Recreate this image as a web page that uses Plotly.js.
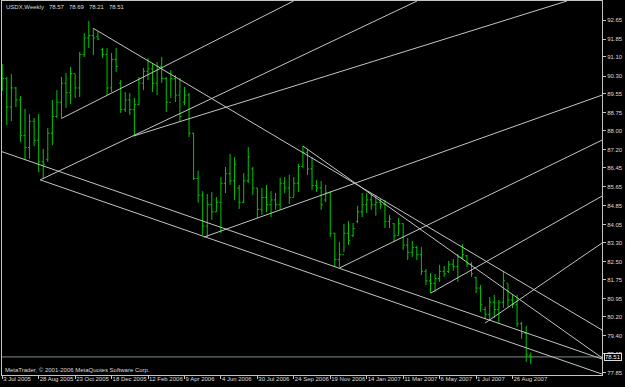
<!DOCTYPE html>
<html>
<head>
<meta charset="utf-8">
<script src="https://cdn.plot.ly/plotly-3.0.1.min.js"></script>
<style>html,body{margin:0;padding:0;background:#000;}#chart{width:625px;height:387px;}</style>
</head>
<body>
<div id="chart"></div>
<script>
// Weekly USDX bars, one per week starting 3 Jul 2005 (index 0)
const openP  = [89.95,90.20,89.00,89.80,89.30,87.80,87.30,88.40,87.60,86.70,86.80,87.90,88.60,89.20,90.00,89.60,90.40,89.80,91.20,91.90,
                92.00,91.95,91.40,91.20,89.80,91.00,90.00,88.90,89.30,88.90,89.10,90.00,90.50,90.60,90.00,90.70,90.20,89.20,90.20,89.50,
                89.20,89.50,87.90,86.00,85.30,84.00,84.90,84.60,85.00,85.80,86.20,85.90,85.60,85.00,85.90,86.40,85.60,84.70,85.20,84.90,
                85.10,84.90,85.80,85.60,85.20,85.80,86.50,87.10,86.40,85.70,85.60,85.10,85.40,83.70,82.60,82.80,83.70,83.60,84.20,84.60,
                84.90,85.10,84.90,85.00,84.90,84.20,84.10,83.60,84.10,83.20,82.90,83.10,82.80,82.10,81.70,81.60,81.80,82.10,82.10,82.40,
                82.30,82.70,82.75,82.40,81.85,81.40,80.50,80.30,80.80,80.50,80.80,81.60,80.90,80.70,79.90,79.50,78.57];
const highP  = [90.80,90.26,90.38,89.84,89.46,88.92,88.70,88.54,88.70,87.24,88.12,89.29,89.71,90.26,90.43,90.68,90.38,91.31,92.10,92.61,
                92.31,92.15,91.48,91.48,91.27,91.48,90.13,89.63,89.59,89.38,90.26,90.64,91.06,90.85,90.89,91.10,90.26,90.55,90.34,90.22,
                89.84,89.59,87.91,86.33,85.47,85.35,85.43,85.22,86.06,86.48,87.03,86.90,85.73,86.23,87.32,86.48,85.60,85.60,85.73,85.47,
                85.39,86.02,86.06,86.15,86.06,86.61,87.36,87.24,86.90,85.94,85.89,85.73,85.47,83.71,83.33,84.09,84.21,84.13,84.85,85.39,
                85.39,85.39,85.31,85.18,85.10,84.47,84.13,84.34,84.13,83.50,83.38,83.17,83.12,82.20,82.03,81.99,82.37,82.33,82.54,82.62,
                82.83,83.25,82.79,82.49,81.86,81.53,80.61,81.03,81.11,80.90,82.12,81.57,81.11,81.11,79.98,79.81,78.69];
const lowP   = [89.67,88.24,88.41,89.00,87.53,86.77,86.82,87.36,86.27,85.98,86.69,87.40,88.54,88.54,88.96,89.12,89.38,89.42,91.10,91.48,
                91.18,91.81,91.06,89.50,89.63,90.47,88.75,88.79,88.66,87.82,89.08,89.71,90.13,89.63,89.50,90.01,88.79,89.38,89.21,88.37,
                89.08,87.74,85.94,84.98,83.63,83.54,84.26,84.59,83.71,85.39,85.73,85.10,84.72,84.97,85.81,85.31,84.34,84.47,84.59,84.38,
                84.68,84.68,85.39,84.93,85.22,85.43,86.44,86.14,85.52,85.43,84.68,85.01,83.54,82.28,82.28,82.91,83.21,83.54,84.13,84.38,
                84.55,84.68,84.43,84.72,83.92,83.92,83.33,83.63,83.00,82.58,82.70,82.58,81.95,81.53,81.19,81.24,81.66,81.87,82.03,82.12,
                81.66,82.62,82.28,81.87,81.19,80.40,80.10,80.06,80.15,79.94,80.56,80.61,80.56,79.77,79.26,78.30,78.21];
const closeP = [90.20,89.00,89.80,89.30,87.80,87.30,88.40,87.60,86.70,86.60,87.90,88.60,89.20,90.00,89.60,90.40,89.80,91.20,91.90,92.00,
                91.90,91.85,91.20,89.80,91.00,90.70,88.90,89.30,88.90,89.10,90.00,90.50,90.60,90.00,90.70,90.20,89.20,90.20,89.50,88.60,
                89.50,87.90,86.00,85.30,84.00,84.90,84.60,85.00,85.80,86.20,85.90,86.60,85.00,85.90,86.90,85.60,84.70,85.20,84.90,85.10,
                84.90,85.80,85.60,85.20,85.80,86.50,87.10,86.40,85.70,85.60,84.90,85.40,83.70,82.60,82.80,83.70,83.40,83.90,84.60,84.90,
                85.10,84.90,85.00,84.90,84.20,84.30,83.60,84.10,83.20,82.90,83.10,82.80,82.10,81.70,81.60,81.80,82.10,82.00,82.40,82.30,
                82.70,82.80,82.40,82.00,81.40,80.70,80.30,80.80,80.50,80.80,81.70,80.90,80.70,79.90,79.50,78.60,78.51];

// X axis labels every 8 weeks
const dateTickIdx = [0,8,16,24,32,40,48,56,64,72,80,88,96,104,112];
const dateLabels  = ["3 Jul 2005","28 Aug 2005","23 Oct 2005","18 Dec 2005","12 Feb 2006","9 Apr 2006","4 Jun 2006",
                     "30 Jul 2006","24 Sep 2006","19 Nov 2006","14 Jan 2007","11 Mar 2007","6 May 2007","1 Jul 2007","26 Aug 2007"];
// Price scale labels
const priceTicks = [92.65,91.85,91.10,90.30,89.55,88.75,88.00,87.20,86.45,85.65,84.85,84.05,83.30,82.50,81.75,80.95,80.20,79.40,78.65,77.85];

// Trend lines (week index, price) start -> end
const lineStartIdx   = [-0.44, 8.34, 8.34, 28.81, 13.0, 20.0, 66.0, 44.3, 74.0, 94.05, 105.97];
const lineStartPrice = [87.15, 85.94, 85.94, 87.78, 88.52, 92.30, 87.36, 83.54, 82.24, 81.19, 79.93];
const lineEndIdx     = [131.64,131.64,91.05,123.96,63.95,131.64,131.64,131.64,131.64,131.64,131.64];
const lineEndPrice   = [78.42, 77.79, 93.45, 93.45, 93.45, 79.64, 78.47, 89.50, 87.61, 85.26, 83.29];

const symbolTitle = "USDX,Weekly";
const copyright = "MetaTrader, © 2001-2006 MetaQuotes Software Corp.";

const idx = openP.map((_, i) => i);
const last = openP.length - 1;
const fmt = v => v.toFixed(2);

const barGreen = "#00c800";
const lineGray = "#c4c4c4";
const textCol = "#dcdcdc";
const FONT = "Liberation Sans, Arial, sans-serif";
const SP = "&nbsp;&nbsp;&nbsp;";

const lx = [], ly = [];
for (let i = 0; i < lineStartIdx.length; i++) {
  lx.push(lineStartIdx[i], lineEndIdx[i], null);
  ly.push(lineStartPrice[i], lineEndPrice[i], null);
}

const traces = [
  {
    type: "ohlc", x: idx, open: openP, high: highP, low: lowP, close: closeP,
    increasing: {line: {color: barGreen, width: 1}},
    decreasing: {line: {color: barGreen, width: 1}},
    tickwidth: 0.35, hoverinfo: "skip", showlegend: false
  },
  {
    type: "scatter", mode: "lines", x: lx, y: ly, connectgaps: false,
    line: {color: lineGray, width: 1}, hoverinfo: "skip", showlegend: false
  }
];

const layout = {
  width: 625, height: 387,
  margin: {l: 2, r: 23, t: 1, b: 12, pad: 0},
  paper_bgcolor: "#000000", plot_bgcolor: "#000000",
  font: {family: FONT, size: 6, color: textCol},
  showlegend: false,
  xaxis: {
    type: "linear", range: [-0.05, 131.64],
    rangeslider: {visible: false},
    tickmode: "array", tickvals: dateTickIdx, ticktext: dateLabels,
    tickangle: 0,
    ticks: "outside", ticklen: 3, tickcolor: lineGray, tickwidth: 1,
    ticklabelposition: "outside right", ticklabelstandoff: -2,
    tickfont: {family: FONT, size: 6, color: textCol},
    showgrid: false, zeroline: false,
    showline: true, mirror: true, linecolor: lineGray, linewidth: 1,
    fixedrange: true
  },
  yaxis: {
    side: "right", range: [77.75, 93.45],
    tickmode: "array", tickvals: priceTicks, ticktext: priceTicks.map(fmt),
    ticks: "outside", ticklen: 3, tickcolor: lineGray, tickwidth: 1,
    tickfont: {family: FONT, size: 6, color: textCol},
    showgrid: false, zeroline: false,
    showline: true, mirror: true, linecolor: lineGray, linewidth: 1,
    fixedrange: true
  },
  shapes: [
    {type: "line", xref: "paper", x0: 0, x1: 1, yref: "y", y0: closeP[last], y1: closeP[last],
     line: {color: "#7d8c8c", width: 1}, layer: "below"}
  ],
  annotations: [
    {xref: "paper", yref: "paper", x: 0.004, y: 0.985, xanchor: "left", yanchor: "middle",
     text: symbolTitle + SP + [openP[last], highP[last], lowP[last], closeP[last]].map(fmt).join(SP),
     showarrow: false, font: {family: FONT, size: 6, color: textCol}},
    {xref: "paper", yref: "paper", x: 0.002, y: 0.013, xanchor: "left", yanchor: "middle",
     text: copyright, showarrow: false, font: {family: FONT, size: 6, color: textCol}},
    {xref: "paper", yref: "y", x: 1.004, y: closeP[last], xanchor: "left", yanchor: "middle",
     text: fmt(closeP[last]), showarrow: false, bgcolor: "#000000", bordercolor: "#dcdcdc",
     borderwidth: 1, borderpad: 0, font: {family: FONT, size: 6, color: "#ffffff"}}
  ]
};

Plotly.newPlot("chart", traces, layout, {staticPlot: true, displayModeBar: false});
</script>
</body>
</html>
